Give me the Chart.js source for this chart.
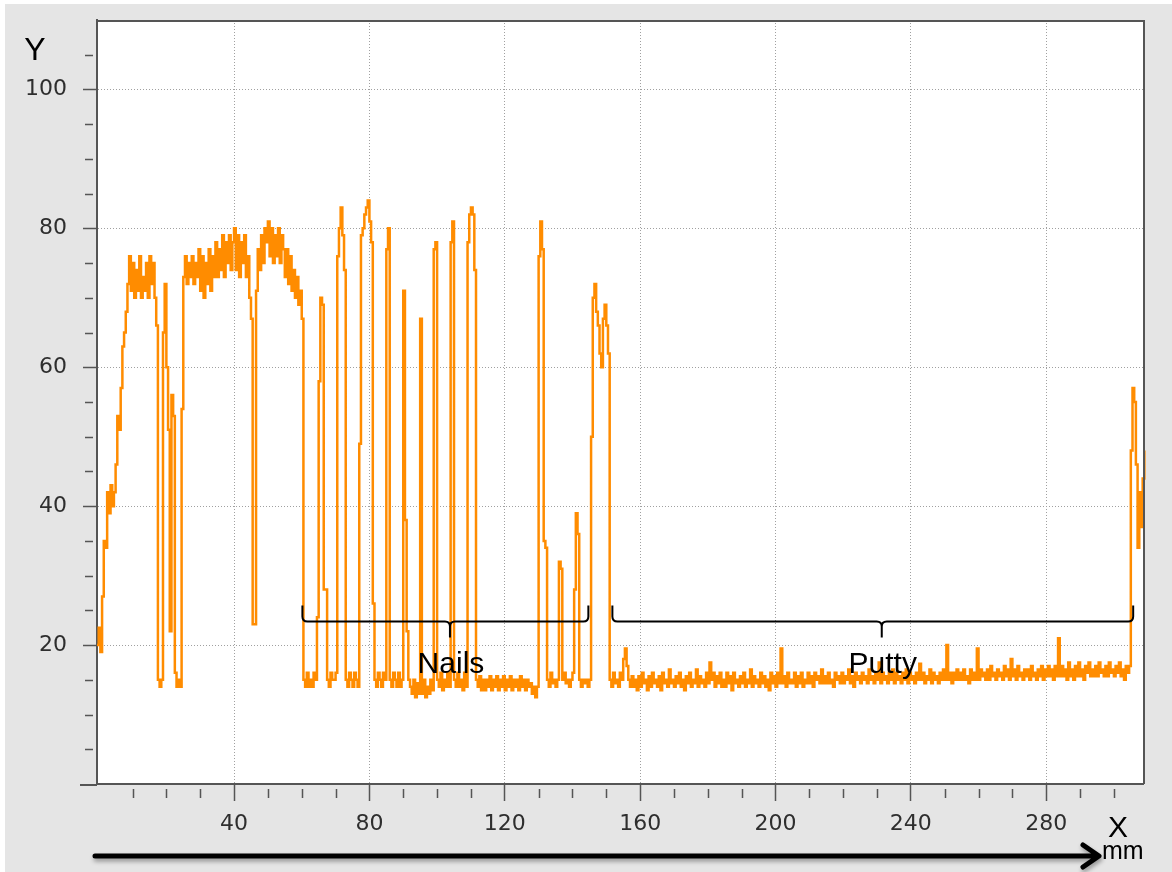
<!DOCTYPE html>
<html><head><meta charset="utf-8">
<script src="https://cdn.jsdelivr.net/npm/chart.js@4.4.1/dist/chart.umd.min.js"></script>
<style>html,body{margin:0;padding:0;background:#fff;}canvas{display:block;}</style>
</head><body>
<canvas id="c" width="1172" height="872"></canvas>
<script>
// ---- data (sampled every 0.5 mm) ----
const sampleStep = 0.5;
const rampPlateauStart = -0.5;
const rampPlateauY = [
  20, 22.5, 19, 27, 35, 34, 42, 39, 43, 40,
  42, 46, 53, 51, 57, 63, 65, 68, 72, 76,
  71, 75, 70, 74, 71, 76, 70, 73, 71, 75,
  70, 76, 72, 75, 70, 66, 15, 14, 15, 65,
  72, 60, 51, 22, 56, 53, 16, 14, 15, 14,
  54, 73, 76, 72, 75, 73, 76, 72, 75, 73,
  77, 71, 76, 70, 75, 72, 77, 71, 76, 73,
  78, 73, 77, 74, 79, 73, 78, 75, 79, 74,
  78, 80, 74, 79, 73, 78, 75, 79, 73, 76,
  70, 67, 23, 23, 71, 77, 74, 79, 75, 80,
  78, 81, 76, 80, 75, 79, 76, 80, 75, 79,
  77, 73, 77, 72, 76, 71, 74, 70, 73, 69
];
const nailsStart = 59.5;
const nailsY = [
  71, 67, 15, 14, 16, 14, 15, 14, 16, 15,
  24, 58, 70, 69, 28, 28, 15, 14, 16, 15,
  15, 16, 76, 80, 83, 79, 74, 15, 14, 16,
  15, 14, 16, 15, 14, 49, 79, 80, 82, 83,
  84, 81, 78, 26, 15, 14, 16, 15, 14, 16,
  15, 77, 80, 15, 14, 16, 15, 14, 16, 14,
  15, 71, 38, 22, 15, 14, 13, 15, 12.5, 14.5,
  13, 67, 13, 15, 12.5, 14, 13, 15, 13.5, 77,
  78, 15, 14, 16, 13.5, 15, 14, 16, 14, 78,
  81, 15, 14, 16, 14, 15, 13.5, 16, 14, 78,
  82, 83, 82, 74, 15, 14, 15.5, 13.5, 15, 13.5,
  15, 14, 15.5, 13.5, 15, 14, 15.5, 13.5, 15, 14,
  15.5, 13.5, 15, 14, 15.5, 13.5, 15, 14, 15, 13.5,
  15.5, 14, 15, 13.5, 15, 14, 14.5, 13, 14, 12.5,
  14, 76, 81, 77, 35, 34, 15, 14, 16, 14.5,
  15, 14, 15, 32, 31, 15, 16, 14.5, 15, 14,
  15, 16, 28, 39, 36, 15, 14, 15, 14.5, 15,
  14, 15, 50, 70, 72, 68, 66, 62, 60, 67,
  69, 66, 62, 15, 14, 16, 14.5, 15, 14, 16,
  15, 18, 19.5, 17, 15, 14, 15.5, 14, 15, 13.5
];
const puttyStart = 159.5;
const puttyY = [
  15.5, 14, 16, 14.5, 15, 13.5, 15.5, 14, 16, 14.5,
  15, 14, 15.5, 13.5, 16, 14.5, 15, 14, 16.5, 14.5,
  15, 14, 15.5, 14.5, 16, 14, 15, 13.5, 15.5, 14.5,
  16, 14, 15, 14.5, 16.5, 14, 15.5, 14.5, 15, 14,
  16, 14.5, 17.5, 15, 16, 14, 15.5, 14.5, 16, 14,
  15, 14, 16, 14.5, 15.5, 13.5, 16, 14.5, 15, 14,
  15.5, 14.5, 16, 14, 15, 14.5, 16.5, 14, 15.5, 14.5,
  15, 14, 16, 14.5, 15.5, 14, 15, 13.5, 16, 14.5,
  15.5, 14, 16, 14.5, 19.5, 14.5, 15.5, 14, 16, 14.5,
  15, 14.5, 16, 14, 15.5, 14.5, 16, 14, 15, 14.5,
  16, 14.5, 15.5, 14, 16, 15, 15.5, 14.5, 16.5, 14.5,
  15.5, 14.5, 16, 14.5, 15, 14, 16, 15, 15.5, 14.5,
  16, 14.5, 15.5, 15, 16.5, 14.5, 15.5, 14, 16, 15,
  15.5, 14.5, 16, 15, 15.5, 14.5, 16.5, 15, 15.5, 14.5,
  16, 15, 17.5, 14.5, 16, 15, 15.5, 14.5, 16, 15,
  16.5, 14.5, 16, 15, 15.5, 14.5, 16, 15, 16.5, 14.5,
  16, 15, 15.5, 14.5, 16, 15, 17.3, 15, 16, 14.5,
  15.5, 15, 16.5, 14.5, 16, 15, 15.5, 14.5, 16, 15,
  16.5, 15, 20, 15, 16, 14.5, 16, 15, 16.5, 15,
  16, 15, 16.5, 15, 15.5, 14.5, 16.5, 15, 16, 15,
  19.5, 15, 16.5, 15.5, 16, 15, 16.5, 15, 17, 15.5,
  16, 15, 16.5, 15.5, 16, 15, 17, 15.5, 16.5, 15,
  18, 15.5, 16.5, 15, 17, 15.5, 16, 15, 16.5, 15.5,
  16.5, 15, 17, 15.5, 16, 15, 16.5, 15.5, 17, 15,
  16.5, 15.5, 17, 15.5, 16.5, 15, 17, 15.5, 21, 15.5,
  17, 15.5, 16.5, 15, 17.5, 15.5, 16.5, 15, 17, 15.5,
  17.5, 15.5, 16.5, 15, 17, 16, 17.5, 15.5, 16.5, 15.5,
  17, 15.5, 17.5, 16, 16.5, 15.5, 17, 15.5, 17.5, 16,
  16.5, 15.5, 17, 16, 17.5, 15.5, 16.5, 15, 17, 16
];
const endStart = 304.5;
const endY = [17, 48, 57, 55, 46, 34, 42, 37, 44, 48];

const xTickValues = [40, 80, 120, 160, 200, 240, 280];
const yTickValues = [20, 40, 60, 80, 100];
const xMinorTicks = [10, 20, 30, 50, 60, 70, 90, 100, 110, 130, 140, 150, 170, 180, 190, 210, 220, 230, 250, 260, 270, 290, 300];
const yMinorTicks = [5, 10, 15, 25, 30, 35, 45, 50, 55, 65, 70, 75, 85, 90, 95, 105];

const braceLabels = ['Nails', 'Putty'];
const braceFrom = [60.2, 151.8];
const braceTo = [144.7, 305.7];
const braceTip = [103.8, 231.4];
const braceLevel = 23.5;

// ---- build points ----
function seg(start, ys) { return ys.map((y, i) => ({ x: start + i * sampleStep, y })); }
const points = [].concat(
  seg(rampPlateauStart, rampPlateauY),
  seg(nailsStart, nailsY),
  seg(puttyStart, puttyY),
  seg(endStart, endY)
);

const LABEL_FONT = '"Liberation Sans", Arial, sans-serif';

const decor = {
  id: 'decor',
  beforeDraw(chart) {
    const { ctx, chartArea: a } = chart;
    ctx.save();
    ctx.fillStyle = '#ffffff';
    ctx.fillRect(0, 0, chart.width, chart.height);
    ctx.fillStyle = '#e5e5e5';
    ctx.fillRect(5, 4, chart.width - 5, chart.height - 4);
    ctx.fillStyle = '#ffffff';
    ctx.fillRect(a.left, a.top, a.right - a.left, a.bottom - a.top);
    ctx.restore();
  },
  afterDraw(chart) {
    const { ctx, chartArea: a, scales } = chart;
    const xs = scales.x, ys = scales.y;
    ctx.save();
    ctx.strokeStyle = '#555';
    ctx.lineWidth = 2;
    ctx.beginPath();
    ctx.moveTo(a.left, a.top + 1);
    ctx.lineTo(a.right + 1, a.top + 1);
    ctx.lineTo(a.right + 1, a.bottom);
    ctx.stroke();
    ctx.beginPath();
    ctx.moveTo(80, a.bottom + 1);
    ctx.lineTo(a.left, a.bottom + 1);
    ctx.stroke();
    ctx.lineWidth = 1.5;
    ctx.strokeStyle = '#555';
    ctx.beginPath();
    xMinorTicks.forEach(v => {
      const px = Math.round(xs.getPixelForValue(v)) + 0.5;
      ctx.moveTo(px, a.bottom + 5);
      ctx.lineTo(px, a.bottom + 14);
    });
    yMinorTicks.forEach(v => {
      const py = Math.round(ys.getPixelForValue(v)) + 0.5;
      ctx.moveTo(a.left - 12, py);
      ctx.lineTo(a.left - 4, py);
    });
    ctx.stroke();

    ctx.strokeStyle = '#000';
    ctx.lineWidth = 2;
    ctx.fillStyle = '#000';
    ctx.font = '30px ' + LABEL_FONT;
    ctx.textAlign = 'center';
    ctx.textBaseline = 'alphabetic';
    braceLabels.forEach((lab, i) => {
      const x1 = xs.getPixelForValue(braceFrom[i]);
      const x2 = xs.getPixelForValue(braceTo[i]);
      const xm = xs.getPixelForValue(braceTip[i]);
      const yl = Math.round(ys.getPixelForValue(braceLevel)) + 0.5;
      const r = 5, endH = 16, tipH = 16;
      ctx.beginPath();
      ctx.moveTo(x1, yl - endH);
      ctx.lineTo(x1, yl - r);
      ctx.quadraticCurveTo(x1, yl, x1 + r, yl);
      ctx.lineTo(xm - r, yl);
      ctx.quadraticCurveTo(xm, yl, xm, yl + r);
      ctx.lineTo(xm, yl + tipH);
      ctx.moveTo(xm, yl + r);
      ctx.quadraticCurveTo(xm, yl, xm + r, yl);
      ctx.lineTo(x2 - r, yl);
      ctx.quadraticCurveTo(x2, yl, x2, yl - r);
      ctx.lineTo(x2, yl - endH);
      ctx.stroke();
      ctx.fillText(lab, xm + 1, yl + 51);
    });

    ctx.textAlign = 'center';
    ctx.font = '32px ' + LABEL_FONT;
    ctx.fillText('Y', 35, 60);
    ctx.font = '30px ' + LABEL_FONT;
    ctx.fillText('X', 1118, 837);
    ctx.textAlign = 'left';
    ctx.font = '25px ' + LABEL_FONT;
    ctx.fillText('mm', 1102, 859);

    ctx.shadowColor = 'rgba(0,0,0,0.35)';
    ctx.shadowOffsetY = 3;
    ctx.shadowOffsetX = 1;
    ctx.shadowBlur = 4;
    ctx.strokeStyle = '#000';
    ctx.lineWidth = 5;
    ctx.lineCap = 'round';
    ctx.lineJoin = 'round';
    ctx.beginPath();
    ctx.moveTo(95, 856);
    ctx.lineTo(1096, 856);
    ctx.moveTo(1083, 845);
    ctx.lineTo(1099, 856);
    ctx.lineTo(1083, 867);
    ctx.stroke();
    ctx.restore();
  }
};

const tickFont = { family: '"DejaVu Sans", sans-serif', size: 22 };

new Chart(document.getElementById('c'), {
  type: 'line',
  data: {
    datasets: [{
      data: points,
      borderColor: '#ff8c00',
      borderWidth: 2.5,
      pointRadius: 0,
      tension: 0,
      stepped: true,
      borderJoinStyle: 'miter',
      fill: false,
      clip: { left: 0, top: 0, right: 5, bottom: 0 }
    }]
  },
  options: {
    responsive: false,
    animation: false,
    layout: { padding: { left: 0, top: 20, right: 29, bottom: 0 } },
    plugins: { legend: { display: false }, tooltip: { enabled: false } },
    scales: {
      x: {
        type: 'linear',
        min: -0.5,
        max: 308.6,
        afterBuildTicks: s => { s.ticks = xTickValues.map(v => ({ value: v })); },
        afterFit: s => { s.height = 88; s.paddingLeft = 0; s.paddingRight = 0; },
        grid: { color: '#a0a0a0', lineWidth: 1, drawTicks: true, tickLength: 17, tickColor: '#555', tickWidth: 1.5, tickBorderDash: [] },
        border: { display: true, color: '#555', width: 2, dash: [1, 2] },
        ticks: { font: tickFont, color: '#2e2e2e', padding: 10, maxRotation: 0, autoSkip: false }
      },
      y: {
        type: 'linear',
        min: 0,
        max: 110,
        afterBuildTicks: s => { s.ticks = yTickValues.map(v => ({ value: v })); },
        afterFit: s => { s.width = 97; s.paddingTop = 0; s.paddingBottom = 0; },
        grid: { color: '#a0a0a0', lineWidth: 1, drawTicks: true, tickLength: 14, tickColor: '#555', tickWidth: 1.5, tickBorderDash: [] },
        border: { display: true, color: '#555', width: 2, dash: [1, 2] },
        ticks: { font: tickFont, color: '#2e2e2e', padding: 16, autoSkip: false }
      }
    }
  },
  plugins: [decor]
});
</script>
</body></html>
